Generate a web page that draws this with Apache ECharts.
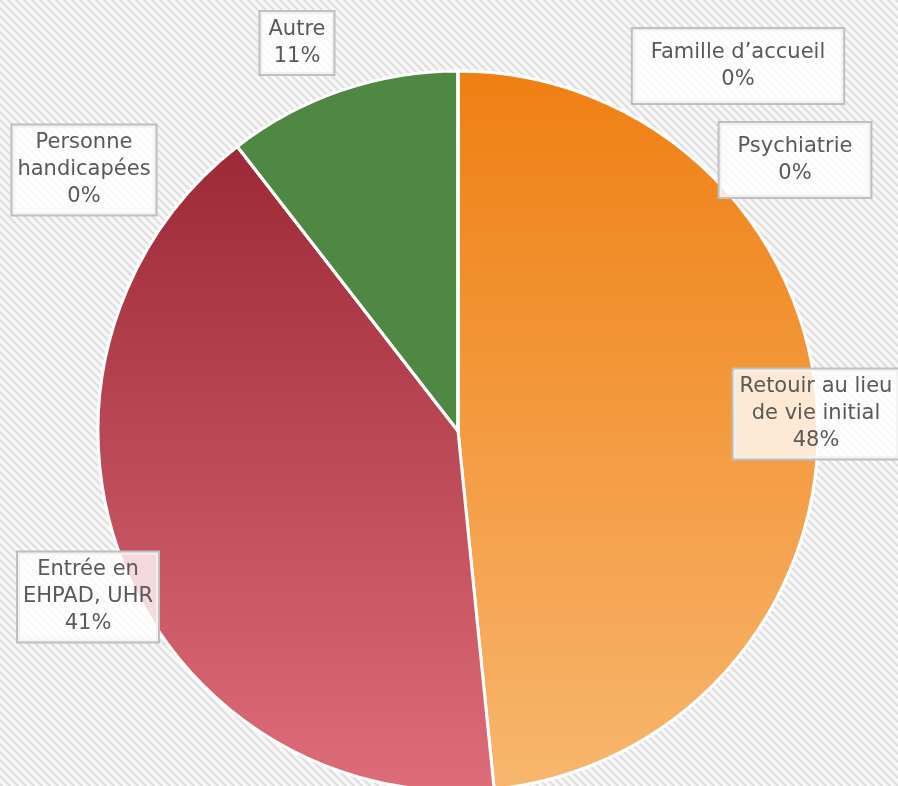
<!DOCTYPE html>
<html>
<head>
<meta charset="utf-8">
<style>
  html, body { margin: 0; padding: 0; }
  #main { width: 898px; height: 786px; }
</style>
<script src="https://cdn.jsdelivr.net/npm/echarts@6/dist/echarts.min.js"></script>
</head>
<body>
<div id="main"></div>
<script>
// données
var categories = [
  "Retouir au lieu\nde vie initial",
  "Entrée en\nEHPAD, UHR",
  "Personne\nhandicapées",
  "Autre",
  "Famille d’accueil",
  "Psychiatrie"
];
var percents = [48.4, 41.1, 0, 10.5, 0, 0];

// position des étiquettes (centre de la boîte)
var labelPos = [
  [816, 414],
  [88, 597],
  [84, 170],
  [297, 43],
  [738, 66],
  [795, 160]
];
var labelPad = [
  [4, 6], [4, 5], [4, 5], [4, 8], [10, 18], [10, 18]
];

// fond hachuré
var hatch = document.createElement("canvas");
hatch.width = 8;
hatch.height = 8;
var hctx = hatch.getContext("2d");
hctx.fillStyle = "#f7f7f7";
hctx.fillRect(0, 0, 8, 8);
hctx.strokeStyle = "#dedede";
hctx.lineWidth = 2.2;
hctx.beginPath();
hctx.moveTo(-2, -2); hctx.lineTo(10, 10);
hctx.moveTo(-10, -2); hctx.lineTo(2, 10);
hctx.moveTo(6, -2); hctx.lineTo(18, 10);
hctx.stroke();

function grad(c1, c2) {
  return new echarts.graphic.LinearGradient(0, 0, 0, 1, [
    { offset: 0, color: c1 },
    { offset: 1, color: c2 }
  ]);
}

var colors = [
  grad("#ef7f12", "#f8b66e"),
  grad("#9d2937", "#de6c79"),
  "#a5a5a5",
  "#4f8843",
  "#5b9bd5",
  "#ffc000"
];

var chart = echarts.init(document.getElementById("main"));

chart.setOption({
  backgroundColor: { image: hatch, repeat: "repeat" },
  animation: false,
  series: [
    {
      type: "pie",
      center: [458, 431],
      radius: 360,
      startAngle: 90,
      clockwise: true,
      avoidLabelOverlap: false,
      itemStyle: {
        borderColor: "#ffffff",
        borderWidth: 3
      },
      label: {
        show: true,
        position: "outside",
        formatter: function (p) {
          return p.name + "\n" + Math.round(p.percent) + "%";
        },
        fontFamily: "DejaVu Sans",
        fontSize: 21,
        lineHeight: 27,
        color: "#595959",
        align: "center",
        backgroundColor: "rgba(255,255,255,0.78)",
        borderColor: "#bfbfbf",
        borderWidth: 2
      },
      labelLine: { show: false },
      labelLayout: function (p) {
        var pos = labelPos[p.dataIndex];
        return {
          x: pos[0],
          y: pos[1],
          align: "center",
          verticalAlign: "middle"
        };
      },
      emphasis: { disabled: true },
      data: categories.map(function (name, i) {
        return {
          name: name,
          value: percents[i],
          itemStyle: { color: colors[i] },
          label: { padding: labelPad[i] }
        };
      })
    }
  ]
});
</script>
</body>
</html>
